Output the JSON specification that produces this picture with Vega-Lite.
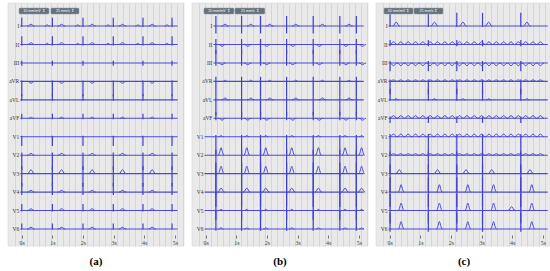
{
"$schema": "https://vega.github.io/schema/vega-lite/v6.json",
"padding": {"left": 7, "top": 2, "right": 0, "bottom": 0},
"spacing": 6,
"datasets": {
"leads": [
{"p":"a","l":"I","b":12,"s0":-0.05,"e":5.09},{"p":"a","l":"II","b":11,"s0":-0.05,"e":5.09},{"p":"a","l":"III","b":10,"s0":-0.05,"e":5.09},{"p":"a","l":"aVR","b":9,"s0":-0.05,"e":5.09},{"p":"a","l":"aVL","b":8,"s0":-0.05,"e":5.09},{"p":"a","l":"aVF","b":7,"s0":-0.05,"e":5.09},
{"p":"a","l":"V1","b":6,"s0":-0.05,"e":5.09},{"p":"a","l":"V2","b":5,"s0":-0.05,"e":5.09},{"p":"a","l":"V3","b":4,"s0":-0.05,"e":5.09},{"p":"a","l":"V4","b":3,"s0":-0.05,"e":5.09},{"p":"a","l":"V5","b":2,"s0":-0.05,"e":5.09},{"p":"a","l":"V6","b":1,"s0":-0.05,"e":5.09},
{"p":"b","l":"I","b":12,"s0":0.25,"e":5.16},{"p":"b","l":"II","b":11,"s0":0.25,"e":5.16},{"p":"b","l":"III","b":10,"s0":0.25,"e":5.16},{"p":"b","l":"aVR","b":9,"s0":0.25,"e":5.16},{"p":"b","l":"aVL","b":8,"s0":0.25,"e":5.16},{"p":"b","l":"aVF","b":7,"s0":0.25,"e":5.16},
{"p":"b","l":"V1","b":6,"s0":-0.04,"e":5.16},{"p":"b","l":"V2","b":5,"s0":-0.04,"e":5.16},{"p":"b","l":"V3","b":4,"s0":-0.04,"e":5.16},{"p":"b","l":"V4","b":3,"s0":-0.04,"e":5.16},{"p":"b","l":"V5","b":2,"s0":-0.04,"e":5.16},{"p":"b","l":"V6","b":1,"s0":-0.04,"e":5.16},
{"p":"c","l":"I","b":12,"s0":-0.04,"e":5.16},{"p":"c","l":"II","b":11,"s0":-0.04,"e":5.16},{"p":"c","l":"III","b":10,"s0":-0.04,"e":5.16},{"p":"c","l":"aVR","b":9,"s0":-0.04,"e":5.16},{"p":"c","l":"aVL","b":8,"s0":-0.04,"e":5.16},{"p":"c","l":"aVF","b":7,"s0":-0.04,"e":5.16},
{"p":"c","l":"V1","b":6,"s0":-0.04,"e":5.16},{"p":"c","l":"V2","b":5,"s0":-0.04,"e":5.16},{"p":"c","l":"V3","b":4,"s0":-0.04,"e":5.16},{"p":"c","l":"V4","b":3,"s0":-0.04,"e":5.16},{"p":"c","l":"V5","b":2,"s0":-0.04,"e":5.16},{"p":"c","l":"V6","b":1,"s0":-0.04,"e":5.16}
],
"beats": [
{"p":"a","l":"I","hi":12.45,"lo":11.95,"t":[0,1,2,2.99,3.96,4.91]},
{"p":"a","l":"II","hi":11.45,"lo":10.95,"t":[0,1,2,2.99,3.96,4.91]},
{"p":"a","l":"III","hi":10.12,"lo":9.85,"t":[0,1,2,2.99,3.96,4.91]},
{"p":"a","l":"aVR","hi":9.05,"lo":8.2,"t":[0,1,2,2.99,3.96,4.91]},
{"p":"a","l":"aVL","hi":8.3,"lo":7.95,"t":[0,1,2,2.99,3.96,4.91]},
{"p":"a","l":"aVF","hi":7.25,"lo":6.95,"t":[0,1,2,2.99,3.96,4.91]},
{"p":"a","l":"V1","hi":6.05,"lo":5.5,"t":[0,1,2,2.99,3.96,4.91]},
{"p":"a","l":"V2","hi":5.15,"lo":4.2,"t":[0,1,2,2.99,3.96,4.91]},
{"p":"a","l":"V3","hi":4.4,"lo":3.3,"t":[0,1,2,2.99,3.96,4.91]},
{"p":"a","l":"V4","hi":3.5,"lo":2.85,"t":[0,1,2,2.99,3.96,4.91]},
{"p":"a","l":"V5","hi":2.35,"lo":1.95,"t":[0,1,2,2.99,3.96,4.91]},
{"p":"a","l":"V6","hi":1.3,"lo":0.97,"t":[0,1,2,2.99,3.96,4.91]},
{"p":"b","l":"I","hi":12.55,"lo":11.6,"t":[0.33,1.17,1.79,2.64,3.51,4.38,4.92]},
{"p":"b","l":"II","hi":11.3,"lo":10.5,"t":[0.33,1.17,1.79,2.64,3.51,4.38,4.92]},
{"p":"b","l":"III","hi":10.7,"lo":9.85,"t":[0.33,1.17,1.79,2.64,3.51,4.38,4.92]},
{"p":"b","l":"aVR","hi":9.25,"lo":8.2,"t":[0.33,1.17,1.79,2.64,3.51,4.38,4.92]},
{"p":"b","l":"aVL","hi":8.2,"lo":7.15,"t":[0.33,1.17,1.79,2.64,3.51,4.38,4.92]},
{"p":"b","l":"aVF","hi":7.35,"lo":6.9,"t":[0.33,1.17,1.79,2.64,3.51,4.38,4.92]},
{"p":"b","l":"V1","hi":6.1,"lo":5.0,"t":[0.33,1.17,1.79,2.64,3.51,4.38,4.92]},
{"p":"b","l":"V2","hi":5.3,"lo":3.9,"t":[0.33,1.17,1.79,2.64,3.51,4.38,4.92]},
{"p":"b","l":"V3","hi":4.6,"lo":2.9,"t":[0.33,1.17,1.79,2.64,3.51,4.38,4.92]},
{"p":"b","l":"V4","hi":4.0,"lo":2.2,"t":[0.33,1.17,1.79,2.64,3.51,4.38,4.92]},
{"p":"b","l":"V5","hi":3.0,"lo":1.5,"t":[0.33,1.17,1.79,2.64,3.51,4.38,4.92]},
{"p":"b","l":"V6","hi":2.0,"lo":0.9,"t":[0.33,1.17,1.79,2.64,3.51,4.38,4.92]},
{"p":"c","l":"I","hi":12.72,"lo":11.95,"t":[0.01,1.26,2.19,3.03,4.28]},
{"p":"c","l":"II","hi":11.25,"lo":10.9,"t":[0.01,1.26,2.19,3.03,4.28]},
{"p":"c","l":"III","hi":10.1,"lo":9.55,"t":[0.01,1.26,2.19,3.03,4.28]},
{"p":"c","l":"aVR","hi":9.1,"lo":8.3,"t":[0.01,1.26,2.19,3.03,4.28]},
{"p":"c","l":"aVL","hi":8.6,"lo":7.95,"t":[0.01,1.26,2.19,3.03,4.28]},
{"p":"c","l":"aVF","hi":7.1,"lo":6.75,"t":[0.01,1.26,2.19,3.03,4.28]},
{"p":"c","l":"V1","hi":6.15,"lo":5.0,"t":[0.01,1.26,2.19,3.03,4.28]},
{"p":"c","l":"V2","hi":5.2,"lo":4.0,"t":[0.01,1.26,2.19,3.03,4.28]},
{"p":"c","l":"V3","hi":4.5,"lo":3.0,"t":[0.01,1.26,2.19,3.03,4.28]},
{"p":"c","l":"V4","hi":3.8,"lo":2.2,"t":[0.01,1.26,2.19,3.03,4.28]},
{"p":"c","l":"V5","hi":2.9,"lo":1.3,"t":[0.01,1.26,2.19,3.03,4.28]},
{"p":"c","l":"V6","hi":1.9,"lo":0.85,"t":[0.01,1.26,2.19,3.03,4.28]}
],
"waves": [
{"p":"a","l":"I","b":12,"k":"t1","t":[0.3,1.3,2.3,3.29,4.26]},
{"p":"a","l":"I","b":12,"k":"p","t":[0.83,1.83,2.82,3.79,4.74]},
{"p":"a","l":"II","b":11,"k":"t1","t":[0.3,1.3,2.3,3.29,4.26]},
{"p":"a","l":"II","b":11,"k":"p","t":[0.83,1.83,2.82,3.79,4.74]},
{"p":"a","l":"aVR","b":9,"k":"d","t":[0.3,1.3,2.3,3.29,4.26]},
{"p":"a","l":"aVF","b":7,"k":"p","t":[0.3,1.3,2.3,3.29,4.26]},
{"p":"a","l":"V2","b":5,"k":"t1","t":[0.3,1.3,2.3,3.29,4.26]},
{"p":"a","l":"V3","b":4,"k":"t2","t":[0.3,1.3,2.3,3.29,4.26]},
{"p":"a","l":"V4","b":3,"k":"t1","t":[0.3,1.3,2.3,3.29,4.26]},
{"p":"a","l":"V5","b":2,"k":"t1","t":[0.3,1.3,2.3,3.29,4.26]},
{"p":"a","l":"V6","b":1,"k":"t1","t":[0.3,1.3,2.3,3.29,4.26]},
{"p":"b","l":"I","b":12,"k":"t1","t":[0.63,1.47,2.09,2.94,3.81,4.68]},
{"p":"b","l":"II","b":11,"k":"d","t":[0.53,1.37,1.99,2.84,3.71,4.58,5.12]},
{"p":"b","l":"III","b":10,"k":"d","t":[0.53,1.37,1.99,2.84,3.71,4.58,5.12]},
{"p":"b","l":"aVR","b":9,"k":"p","t":[0.63,1.47,2.09,2.94,3.81,4.68]},
{"p":"b","l":"aVL","b":8,"k":"t1","t":[0.63,1.47,2.09,2.94,3.81,4.68]},
{"p":"b","l":"aVF","b":7,"k":"d","t":[0.53,1.37,1.99,2.84,3.71,4.58,5.12]},
{"p":"b","l":"V1","b":6,"k":"p","t":[0.5,1.34,1.96,2.81,3.68,4.55,5.09]},
{"p":"b","l":"V2","b":5,"k":"t3","t":[0.5,1.34,1.96,2.81,3.68,4.55,5.09]},
{"p":"b","l":"V3","b":4,"k":"t3","t":[0.5,1.34,1.96,2.81,3.68,4.55,5.09]},
{"p":"b","l":"V4","b":3,"k":"t2","t":[0.5,1.34,1.96,2.81,3.68,4.55,5.09]},
{"p":"b","l":"V5","b":2,"k":"p","t":[0.5,1.34,1.96,2.81,3.68,4.55,5.09]},
{"p":"b","l":"V6","b":1,"k":"p","t":[0.5,1.34,1.96,2.81,3.68,4.55,5.09]},
{"p":"c","l":"I","b":12,"k":"t2","t":[0.21,1.46,2.39,3.23,4.48]},
{"p":"c","l":"II","b":11,"k":"f","t":[0.12,0.36,0.6,0.84,1.08,1.32,1.56,1.8,2.04,2.28,2.52,2.76,3.0,3.24,3.48,3.72,3.96,4.2,4.44,4.68,4.92]},
{"p":"c","l":"III","b":10,"k":"g","t":[0.12,0.36,0.6,0.84,1.08,1.32,1.56,1.8,2.04,2.28,2.52,2.76,3.0,3.24,3.48,3.72,3.96,4.2,4.44,4.68,4.92]},
{"p":"c","l":"aVR","b":9,"k":"fs","t":[0.12,0.36,0.6,0.84,1.08,1.32,1.56,1.8,2.04,2.28,2.52,2.76,3.0,3.24,3.48,3.72,3.96,4.2,4.44,4.68,4.92]},
{"p":"c","l":"aVL","b":8,"k":"p","t":[0.21,1.46,2.39,3.23,4.48]},
{"p":"c","l":"aVF","b":7,"k":"f","t":[0.12,0.36,0.6,0.84,1.08,1.32,1.56,1.8,2.04,2.28,2.52,2.76,3.0,3.24,3.48,3.72,3.96,4.2,4.44,4.68,4.92]},
{"p":"c","l":"V1","b":6,"k":"f","t":[0.12,0.36,0.6,0.84,1.08,1.32,1.56,1.8,2.04,2.28,2.52,2.76,3.0,3.24,3.48,3.72,3.96,4.2,4.44,4.68,4.92]},
{"p":"c","l":"V2","b":5,"k":"fs","t":[0.12,0.36,0.6,0.84,1.08,1.32,1.56,1.8,2.04,2.28,2.52,2.76,3.0,3.24,3.48,3.72,3.96,4.2,4.44,4.68,4.92]},
{"p":"c","l":"V3","b":4,"k":"t2","t":[0.31,1.56,2.49,3.33,4.58]},
{"p":"c","l":"V4","b":3,"k":"t3","t":[0.37,1.62,2.55,3.39,4.64]},
{"p":"c","l":"V5","b":2,"k":"t3","t":[0.37,1.62,2.55,3.39,4.64]},
{"p":"c","l":"V5","b":2,"k":"t2","t":[3.98]},
{"p":"c","l":"V6","b":1,"k":"t3","t":[0.37,1.62,2.55,3.39,4.64]}
]
},
"hconcat": [
{
"width": 176, "height": 243,
"title": {"text": "(a)", "orient": "bottom", "anchor": "middle", "offset": 10},
"resolve": {"axis": {"x": "independent"}},
"layer": [
{"data": {"name": "leads"}, "transform": [{"filter": "datum.p == 'a'"}],
 "mark": {"type": "rule", "color": "#4a4ad6", "strokeWidth": 1.1},
 "encoding": {
  "x": {"field": "s0", "type": "quantitative", "scale": {"domain": [-0.45, 5.3], "nice": false, "zero": false},
        "axis": {"orient": "bottom", "values": [0,1,2,3,4,5], "labelExpr": "datum.value + 's'", "offset": -11, "grid": false, "domain": false, "ticks": true, "tickSize": 3, "tickColor": "#555555", "tickWidth": 0.8, "labelFontSize": 6, "labelFont": "Liberation Serif", "labelColor": "#444444", "labelPadding": 1, "labelFlush": false, "title": null}},
  "x2": {"field": "e"},
  "y": {"field": "b", "type": "quantitative", "scale": {"domain": [0.08, 13.25], "nice": false, "zero": false},
        "axis": {"values": [12.8977,12.5725,12.2473,11.9221,11.5969,11.2717,10.9465,10.6213,10.2961,9.9709,9.6457,9.3205,8.9953,8.6701,8.3449,8.0197,7.6945,7.3693,7.0441,6.7188,6.3936,6.0684,5.7432,5.418,5.0928,4.7676,4.4424,4.1172,3.792,3.4668,3.1416,2.8164,2.4912,2.166,1.8408,1.5156,1.1904,0.8652,0.54,0.2148], "grid": true, "labels": false, "ticks": false, "domain": false, "title": null, "gridColor": "#d6d6d6", "gridWidth": 1}}
 }},
{"data": {"name": "beats"}, "transform": [{"filter": "datum.p == 'a'"}, {"flatten": ["t"]}],
 "mark": {"type": "rule", "color": "#4040d0", "strokeWidth": 1.2},
 "encoding": {
  "x": {"field": "t", "type": "quantitative", "scale": {"domain": [-0.45, 5.3], "nice": false, "zero": false},
        "axis": {"values": [-0.2376,-0.0415,0.1545,0.3506,0.5467,0.7428,0.9388,1.1349,1.331,1.5271,1.7232,1.9192,2.1153,2.3114,2.5075,2.7035,2.8996,3.0957,3.2918,3.4879,3.6839,3.88,4.0761,4.2722,4.4682,4.6643,4.8604,5.0565,5.2526], "grid": true, "labels": false, "ticks": false, "domain": false, "title": null, "gridColor": "#d6d6d6", "gridWidth": 1}},
  "y": {"field": "hi", "type": "quantitative", "scale": {"domain": [0.08, 13.25], "nice": false, "zero": false}, "axis": null},
  "y2": {"field": "lo"}
 }},
{"data": {"name": "waves"}, "transform": [{"filter": "datum.p == 'a'"}, {"flatten": ["t"]}],
 "mark": {"type": "point", "filled": false, "color": "#4a4ad6", "strokeWidth": 1, "size": 36, "opacity": 1},
 "encoding": {
  "x": {"field": "t", "type": "quantitative", "scale": {"domain": [-0.45, 5.3], "nice": false, "zero": false}, "axis": null},
  "y": {"field": "b", "type": "quantitative", "scale": {"domain": [0.08, 13.25], "nice": false, "zero": false}, "axis": null},
  "shape": {"field": "k", "type": "nominal", "legend": null, "scale": {"domain": ["p","t1","t2","t3","d","f","g","fs"], "range": ["M-0.8,0C-0.3,0 -0.3,-0.4 0,-0.4C0.3,-0.4 0.3,0 0.8,0","M-1.2,0C-0.5,0 -0.5,-0.6 0,-0.6C0.5,-0.6 0.5,0 1.2,0","M-1.2,0C-0.5,0 -0.5,-1.3 0,-1.3C0.5,-1.3 0.5,0 1.2,0","M-1,0C-0.5,0 -0.25,-2.5 0,-2.5C0.25,-2.5 0.5,0 1,0","M-1.2,0C-0.5,0 -0.5,0.6 0,0.6C0.5,0.6 0.5,0 1.2,0","M-1.22,0C-0.6,0 -0.5,-0.9 0,-0.9C0.5,-0.9 0.6,0 1.22,0","M-1.22,0C-0.6,0 -0.5,0.9 0,0.9C0.5,0.9 0.6,0 1.22,0","M-1.22,0C-0.6,0 -0.5,-0.5 0,-0.5C0.5,-0.5 0.6,0 1.22,0"]}}
 }},
{"data": {"name": "leads"}, "transform": [{"filter": "datum.p == 'a'"}],
 "mark": {"type": "text", "align": "right", "baseline": "middle", "dx": -1, "fontSize": 5.5, "font": "Liberation Serif", "color": "#333333"},
 "encoding": {
  "x": {"field": "s0", "type": "quantitative", "scale": {"domain": [-0.45, 5.3], "nice": false, "zero": false}, "axis": null},
  "y": {"field": "b", "type": "quantitative", "scale": {"domain": [0.08, 13.25], "nice": false, "zero": false}, "axis": null},
  "text": {"field": "l"}
 }},
{"data": {"values": [{}]}, "mark": {"type": "rect", "fill": "#66717b", "stroke": "#9aa3ab", "strokeWidth": 0.5, "cornerRadius": 1},
 "encoding": {"x": {"datum": -0.09, "type": "quantitative", "axis": null}, "x2": {"datum": 0.89}, "y": {"datum": 12.98, "type": "quantitative", "axis": null}, "y2": {"datum": 12.65}}},
{"data": {"values": [{}]}, "mark": {"type": "rect", "fill": "#66717b", "stroke": "#9aa3ab", "strokeWidth": 0.5, "cornerRadius": 1},
 "encoding": {"x": {"datum": 0.95, "type": "quantitative", "axis": null}, "x2": {"datum": 1.87}, "y": {"datum": 12.98, "type": "quantitative", "axis": null}, "y2": {"datum": 12.65}}},
{"data": {"values": [{}]}, "mark": {"type": "text", "fontSize": 3.6, "color": "#ffffff", "baseline": "middle", "font": "Liberation Sans"},
 "encoding": {"x": {"datum": 0.4, "type": "quantitative", "axis": null}, "y": {"datum": 12.815, "type": "quantitative", "axis": null}, "text": {"value": "10 mm/mV ⇕"}}},
{"data": {"values": [{}]}, "mark": {"type": "text", "fontSize": 3.6, "color": "#ffffff", "baseline": "middle", "font": "Liberation Sans"},
 "encoding": {"x": {"datum": 1.41, "type": "quantitative", "axis": null}, "y": {"datum": 12.815, "type": "quantitative", "axis": null}, "text": {"value": "25 mm/s ⇕"}}}
]
},
{
"width": 176, "height": 243,
"title": {"text": "(b)", "orient": "bottom", "anchor": "middle", "offset": 10},
"resolve": {"axis": {"x": "independent"}},
"layer": [
{"data": {"name": "leads"}, "transform": [{"filter": "datum.p == 'b'"}],
 "mark": {"type": "rule", "color": "#4a4ad6", "strokeWidth": 1.1},
 "encoding": {
  "x": {"field": "s0", "type": "quantitative", "scale": {"domain": [-0.45, 5.3], "nice": false, "zero": false},
        "axis": {"orient": "bottom", "values": [0,1,2,3,4,5], "labelExpr": "datum.value + 's'", "offset": -11, "grid": false, "domain": false, "ticks": true, "tickSize": 3, "tickColor": "#555555", "tickWidth": 0.8, "labelFontSize": 6, "labelFont": "Liberation Serif", "labelColor": "#444444", "labelPadding": 1, "labelFlush": false, "title": null}},
  "x2": {"field": "e"},
  "y": {"field": "b", "type": "quantitative", "scale": {"domain": [0.08, 13.25], "nice": false, "zero": false},
        "axis": {"values": [12.8977,12.5725,12.2473,11.9221,11.5969,11.2717,10.9465,10.6213,10.2961,9.9709,9.6457,9.3205,8.9953,8.6701,8.3449,8.0197,7.6945,7.3693,7.0441,6.7188,6.3936,6.0684,5.7432,5.418,5.0928,4.7676,4.4424,4.1172,3.792,3.4668,3.1416,2.8164,2.4912,2.166,1.8408,1.5156,1.1904,0.8652,0.54,0.2148], "grid": true, "labels": false, "ticks": false, "domain": false, "title": null, "gridColor": "#d6d6d6", "gridWidth": 1}}
 }},
{"data": {"name": "beats"}, "transform": [{"filter": "datum.p == 'b'"}, {"flatten": ["t"]}],
 "mark": {"type": "rule", "color": "#4040d0", "strokeWidth": 1.2},
 "encoding": {
  "x": {"field": "t", "type": "quantitative", "scale": {"domain": [-0.45, 5.3], "nice": false, "zero": false},
        "axis": {"values": [-0.2376,-0.0415,0.1545,0.3506,0.5467,0.7428,0.9388,1.1349,1.331,1.5271,1.7232,1.9192,2.1153,2.3114,2.5075,2.7035,2.8996,3.0957,3.2918,3.4879,3.6839,3.88,4.0761,4.2722,4.4682,4.6643,4.8604,5.0565,5.2526], "grid": true, "labels": false, "ticks": false, "domain": false, "title": null, "gridColor": "#d6d6d6", "gridWidth": 1}},
  "y": {"field": "hi", "type": "quantitative", "scale": {"domain": [0.08, 13.25], "nice": false, "zero": false}, "axis": null},
  "y2": {"field": "lo"}
 }},
{"data": {"name": "waves"}, "transform": [{"filter": "datum.p == 'b'"}, {"flatten": ["t"]}],
 "mark": {"type": "point", "filled": false, "color": "#4a4ad6", "strokeWidth": 1, "size": 36, "opacity": 1},
 "encoding": {
  "x": {"field": "t", "type": "quantitative", "scale": {"domain": [-0.45, 5.3], "nice": false, "zero": false}, "axis": null},
  "y": {"field": "b", "type": "quantitative", "scale": {"domain": [0.08, 13.25], "nice": false, "zero": false}, "axis": null},
  "shape": {"field": "k", "type": "nominal", "legend": null, "scale": {"domain": ["p","t1","t2","t3","d","f","g","fs"], "range": ["M-0.8,0C-0.3,0 -0.3,-0.4 0,-0.4C0.3,-0.4 0.3,0 0.8,0","M-1.2,0C-0.5,0 -0.5,-0.6 0,-0.6C0.5,-0.6 0.5,0 1.2,0","M-1.2,0C-0.5,0 -0.5,-1.3 0,-1.3C0.5,-1.3 0.5,0 1.2,0","M-1,0C-0.5,0 -0.25,-2.5 0,-2.5C0.25,-2.5 0.5,0 1,0","M-1.2,0C-0.5,0 -0.5,0.6 0,0.6C0.5,0.6 0.5,0 1.2,0","M-1.22,0C-0.6,0 -0.5,-0.9 0,-0.9C0.5,-0.9 0.6,0 1.22,0","M-1.22,0C-0.6,0 -0.5,0.9 0,0.9C0.5,0.9 0.6,0 1.22,0","M-1.22,0C-0.6,0 -0.5,-0.5 0,-0.5C0.5,-0.5 0.6,0 1.22,0"]}}
 }},
{"data": {"name": "leads"}, "transform": [{"filter": "datum.p == 'b'"}],
 "mark": {"type": "text", "align": "right", "baseline": "middle", "dx": -1, "fontSize": 5.5, "font": "Liberation Serif", "color": "#333333"},
 "encoding": {
  "x": {"field": "s0", "type": "quantitative", "scale": {"domain": [-0.45, 5.3], "nice": false, "zero": false}, "axis": null},
  "y": {"field": "b", "type": "quantitative", "scale": {"domain": [0.08, 13.25], "nice": false, "zero": false}, "axis": null},
  "text": {"field": "l"}
 }},
{"data": {"values": [{}]}, "mark": {"type": "rect", "fill": "#66717b", "stroke": "#9aa3ab", "strokeWidth": 0.5, "cornerRadius": 1},
 "encoding": {"x": {"datum": -0.06, "type": "quantitative", "axis": null}, "x2": {"datum": 0.92}, "y": {"datum": 12.98, "type": "quantitative", "axis": null}, "y2": {"datum": 12.65}}},
{"data": {"values": [{}]}, "mark": {"type": "rect", "fill": "#66717b", "stroke": "#9aa3ab", "strokeWidth": 0.5, "cornerRadius": 1},
 "encoding": {"x": {"datum": 0.95, "type": "quantitative", "axis": null}, "x2": {"datum": 1.93}, "y": {"datum": 12.98, "type": "quantitative", "axis": null}, "y2": {"datum": 12.65}}},
{"data": {"values": [{}]}, "mark": {"type": "text", "fontSize": 3.6, "color": "#ffffff", "baseline": "middle", "font": "Liberation Sans"},
 "encoding": {"x": {"datum": 0.43, "type": "quantitative", "axis": null}, "y": {"datum": 12.815, "type": "quantitative", "axis": null}, "text": {"value": "20 mm/mV ⇕"}}},
{"data": {"values": [{}]}, "mark": {"type": "text", "fontSize": 3.6, "color": "#ffffff", "baseline": "middle", "font": "Liberation Sans"},
 "encoding": {"x": {"datum": 1.44, "type": "quantitative", "axis": null}, "y": {"datum": 12.815, "type": "quantitative", "axis": null}, "text": {"value": "25 mm/s ⇕"}}}
]
},
{
"width": 176, "height": 243,
"title": {"text": "(c)", "orient": "bottom", "anchor": "middle", "offset": 10},
"resolve": {"axis": {"x": "independent"}},
"layer": [
{"data": {"name": "leads"}, "transform": [{"filter": "datum.p == 'c'"}],
 "mark": {"type": "rule", "color": "#4a4ad6", "strokeWidth": 1.1},
 "encoding": {
  "x": {"field": "s0", "type": "quantitative", "scale": {"domain": [-0.45, 5.3], "nice": false, "zero": false},
        "axis": {"orient": "bottom", "values": [0,1,2,3,4,5], "labelExpr": "datum.value + 's'", "offset": -11, "grid": false, "domain": false, "ticks": true, "tickSize": 3, "tickColor": "#555555", "tickWidth": 0.8, "labelFontSize": 6, "labelFont": "Liberation Serif", "labelColor": "#444444", "labelPadding": 1, "labelFlush": false, "title": null}},
  "x2": {"field": "e"},
  "y": {"field": "b", "type": "quantitative", "scale": {"domain": [0.08, 13.25], "nice": false, "zero": false},
        "axis": {"values": [12.8977,12.5725,12.2473,11.9221,11.5969,11.2717,10.9465,10.6213,10.2961,9.9709,9.6457,9.3205,8.9953,8.6701,8.3449,8.0197,7.6945,7.3693,7.0441,6.7188,6.3936,6.0684,5.7432,5.418,5.0928,4.7676,4.4424,4.1172,3.792,3.4668,3.1416,2.8164,2.4912,2.166,1.8408,1.5156,1.1904,0.8652,0.54,0.2148], "grid": true, "labels": false, "ticks": false, "domain": false, "title": null, "gridColor": "#d6d6d6", "gridWidth": 1}}
 }},
{"data": {"name": "beats"}, "transform": [{"filter": "datum.p == 'c'"}, {"flatten": ["t"]}],
 "mark": {"type": "rule", "color": "#4040d0", "strokeWidth": 1.2},
 "encoding": {
  "x": {"field": "t", "type": "quantitative", "scale": {"domain": [-0.45, 5.3], "nice": false, "zero": false},
        "axis": {"values": [-0.2376,-0.0415,0.1545,0.3506,0.5467,0.7428,0.9388,1.1349,1.331,1.5271,1.7232,1.9192,2.1153,2.3114,2.5075,2.7035,2.8996,3.0957,3.2918,3.4879,3.6839,3.88,4.0761,4.2722,4.4682,4.6643,4.8604,5.0565,5.2526], "grid": true, "labels": false, "ticks": false, "domain": false, "title": null, "gridColor": "#d6d6d6", "gridWidth": 1}},
  "y": {"field": "hi", "type": "quantitative", "scale": {"domain": [0.08, 13.25], "nice": false, "zero": false}, "axis": null},
  "y2": {"field": "lo"}
 }},
{"data": {"name": "waves"}, "transform": [{"filter": "datum.p == 'c'"}, {"flatten": ["t"]}],
 "mark": {"type": "point", "filled": false, "color": "#4a4ad6", "strokeWidth": 1, "size": 36, "opacity": 1},
 "encoding": {
  "x": {"field": "t", "type": "quantitative", "scale": {"domain": [-0.45, 5.3], "nice": false, "zero": false}, "axis": null},
  "y": {"field": "b", "type": "quantitative", "scale": {"domain": [0.08, 13.25], "nice": false, "zero": false}, "axis": null},
  "shape": {"field": "k", "type": "nominal", "legend": null, "scale": {"domain": ["p","t1","t2","t3","d","f","g","fs"], "range": ["M-0.8,0C-0.3,0 -0.3,-0.4 0,-0.4C0.3,-0.4 0.3,0 0.8,0","M-1.2,0C-0.5,0 -0.5,-0.6 0,-0.6C0.5,-0.6 0.5,0 1.2,0","M-1.2,0C-0.5,0 -0.5,-1.3 0,-1.3C0.5,-1.3 0.5,0 1.2,0","M-1,0C-0.5,0 -0.25,-2.5 0,-2.5C0.25,-2.5 0.5,0 1,0","M-1.2,0C-0.5,0 -0.5,0.6 0,0.6C0.5,0.6 0.5,0 1.2,0","M-1.22,0C-0.6,0 -0.5,-0.9 0,-0.9C0.5,-0.9 0.6,0 1.22,0","M-1.22,0C-0.6,0 -0.5,0.9 0,0.9C0.5,0.9 0.6,0 1.22,0","M-1.22,0C-0.6,0 -0.5,-0.5 0,-0.5C0.5,-0.5 0.6,0 1.22,0"]}}
 }},
{"data": {"name": "leads"}, "transform": [{"filter": "datum.p == 'c'"}],
 "mark": {"type": "text", "align": "right", "baseline": "middle", "dx": -1, "fontSize": 5.5, "font": "Liberation Serif", "color": "#333333"},
 "encoding": {
  "x": {"field": "s0", "type": "quantitative", "scale": {"domain": [-0.45, 5.3], "nice": false, "zero": false}, "axis": null},
  "y": {"field": "b", "type": "quantitative", "scale": {"domain": [0.08, 13.25], "nice": false, "zero": false}, "axis": null},
  "text": {"field": "l"}
 }},
{"data": {"values": [{}]}, "mark": {"type": "rect", "fill": "#66717b", "stroke": "#9aa3ab", "strokeWidth": 0.5, "cornerRadius": 1},
 "encoding": {"x": {"datum": -0.19, "type": "quantitative", "axis": null}, "x2": {"datum": 0.76}, "y": {"datum": 12.98, "type": "quantitative", "axis": null}, "y2": {"datum": 12.65}}},
{"data": {"values": [{}]}, "mark": {"type": "rect", "fill": "#66717b", "stroke": "#9aa3ab", "strokeWidth": 0.5, "cornerRadius": 1},
 "encoding": {"x": {"datum": 0.79, "type": "quantitative", "axis": null}, "x2": {"datum": 1.74}, "y": {"datum": 12.98, "type": "quantitative", "axis": null}, "y2": {"datum": 12.65}}},
{"data": {"values": [{}]}, "mark": {"type": "text", "fontSize": 3.6, "color": "#ffffff", "baseline": "middle", "font": "Liberation Sans"},
 "encoding": {"x": {"datum": 0.285, "type": "quantitative", "axis": null}, "y": {"datum": 12.815, "type": "quantitative", "axis": null}, "text": {"value": "20 mm/mV ⇕"}}},
{"data": {"values": [{}]}, "mark": {"type": "text", "fontSize": 3.6, "color": "#ffffff", "baseline": "middle", "font": "Liberation Sans"},
 "encoding": {"x": {"datum": 1.265, "type": "quantitative", "axis": null}, "y": {"datum": 12.815, "type": "quantitative", "axis": null}, "text": {"value": "25 mm/s ⇕"}}}
]
}
],
"config": {
 "view": {"fill": "#e9e9e9", "stroke": "#d3d3d3", "strokeWidth": 0.5},
 "title": {"font": "Liberation Serif", "fontSize": 11, "fontWeight": "bold", "color": "#000000"},
 "background": "#ffffff"
}
}
